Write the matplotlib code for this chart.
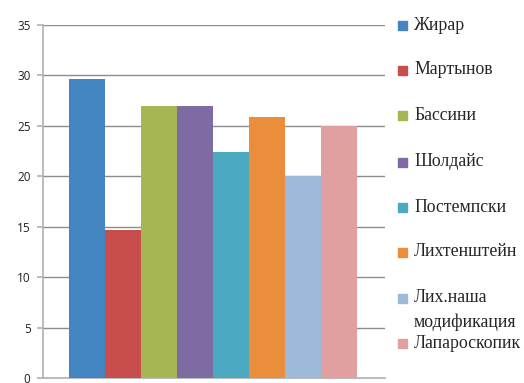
import matplotlib
matplotlib.use("Agg")
import matplotlib.pyplot as plt
from matplotlib.patches import Rectangle
from matplotlib import font_manager

categories = ["Жирар", "Мартынов", "Бассини", "Шолдайс", "Постемпски",
              "Лихтенштейн", "Лих.наша\nмодификация", "Лапароскопик"]
values = [29.6, 14.7, 27.0, 27.0, 22.4, 25.9, 20.0, 25.0]
colors = ["#4285C0", "#C84E4C", "#A6B653", "#7E6BA3", "#4BA9C1",
          "#EB8E3B", "#9DBAD9", "#E0A0A0"]
yticks = [0, 5, 10, 15, 20, 25, 30, 35]

names = {f.name for f in font_manager.fontManager.ttflist}
serif_fam = [n for n in ["Liberation Serif", "DejaVu Serif"] if n in names] or ["serif"]

W, H = 524, 383
fig = plt.figure(figsize=(W / 100, H / 100), dpi=100)
ax = fig.add_axes([43 / W, 1 - 378 / H, (385 - 43) / W, (378 - 25) / H])

x = list(range(len(values)))
ax.bar(x, values, width=1.0, color=colors, zorder=3)
ax.set_xlim(-1.22, 8.28)
ax.set_ylim(0, 35)
ax.set_yticks(yticks)
ax.set_yticklabels([str(t) for t in yticks], fontsize=8.5, color="#222222",
                   family=["Open Sans", "DejaVu Sans"])
ax.set_xticks([])
ax.grid(axis="y", color="#8c8c8c", linewidth=1.0, zorder=0)
for s in ["top", "right"]:
    ax.spines[s].set_visible(False)
ax.spines["left"].set_color("#b0b0b0")
ax.spines["bottom"].set_color("#b0b0b0")
ax.spines["left"].set_linewidth(1.2)
ax.spines["bottom"].set_linewidth(1.2)
ax.tick_params(axis="y", length=4, color="#b0b0b0", width=1.2, pad=5)

# legend, drawn manually to match the original's uneven spacing
leg_lines = [[25], [70], [115], [162], [207], [252], [298, 322], [343]]
fs = 12.8
for lab, col, ys in zip(categories, colors, leg_lines):
    for part, yy in zip(lab.split("\n"), ys):
        fig.text(414 / W, 1 - yy / H, part, fontsize=fs,
                 family=serif_fam, va="center", ha="left", color="#262626")
    sq_y = ys[0]
    fig.patches.append(Rectangle((398 / W, 1 - (sq_y + 4.5) / H), 9 / W, 9 / H,
                                 transform=fig.transFigure, color=col))

fig.savefig("out.png", dpi=100)
